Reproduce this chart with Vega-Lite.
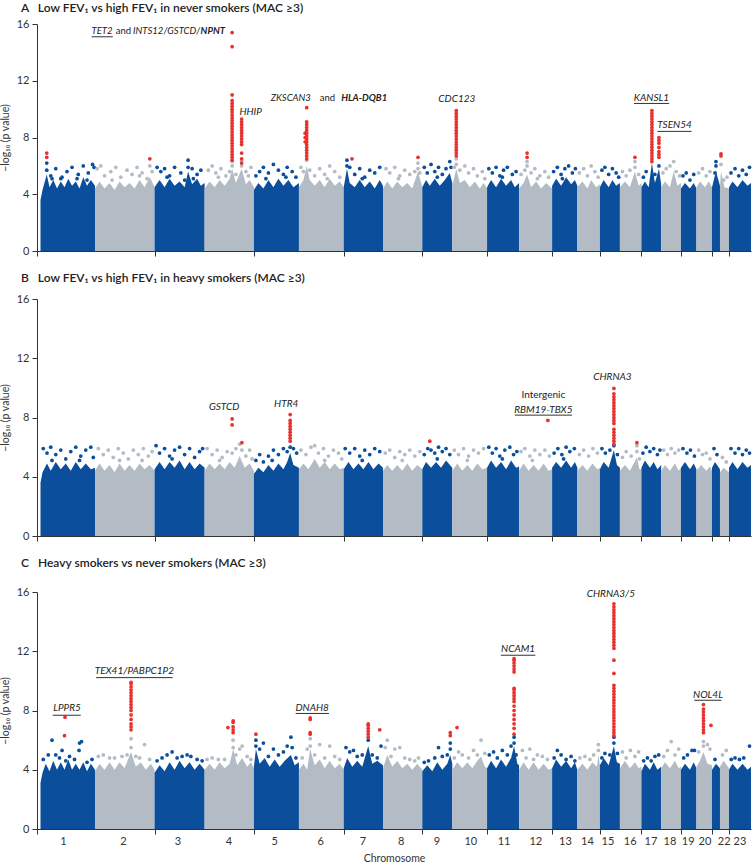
{
"$schema":"https://vega.github.io/schema/vega-lite/v6.json",
"padding":{"left":0,"top":2,"right":0,"bottom":0},
"spacing":15,
"config":{"view":{"stroke":null},"font":"Lato",
"axis":{"labelFont":"Lato","titleFont":"Lato","labelFontSize":11,"titleFontSize":10.5,"titleFontWeight":"normal","labelColor":"#333","titleColor":"#333","domainColor":"#333","tickColor":"#333","grid":false,"tickSize":5},
"title":{"font":"Lato","fontSize":12,"fontWeight":600,"anchor":"start","frame":"group","color":"#222","dx":-16}},
"datasets":{
"profA":[
{"chr":1,"pos":14,"p":3.6},{"chr":1,"pos":22,"p":4.3},{"chr":1,"pos":39,"p":5.4},{"chr":1,"pos":50,"p":4.5},{"chr":1,"pos":65,"p":5.0},{"chr":1,"pos":80,"p":4.4},{"chr":1,"pos":95,"p":4.9},{"chr":1,"pos":110,"p":4.5},{"chr":1,"pos":125,"p":5.1},{"chr":1,"pos":140,"p":4.6},{"chr":1,"pos":155,"p":4.9},{"chr":1,"pos":170,"p":4.4},{"chr":1,"pos":185,"p":5.2},{"chr":1,"pos":200,"p":4.6},{"chr":1,"pos":215,"p":5.0},{"chr":1,"pos":232,"p":4.6},
{"chr":2,"pos":232,"p":4.4},{"chr":2,"pos":250,"p":4.9},{"chr":2,"pos":270,"p":4.4},{"chr":2,"pos":290,"p":4.8},{"chr":2,"pos":310,"p":4.3},{"chr":2,"pos":330,"p":4.9},{"chr":2,"pos":350,"p":4.5},{"chr":2,"pos":370,"p":4.8},{"chr":2,"pos":390,"p":4.4},{"chr":2,"pos":410,"p":5.0},{"chr":2,"pos":430,"p":4.5},{"chr":2,"pos":451,"p":5.2},{"chr":2,"pos":470,"p":4.5},
{"chr":3,"pos":470,"p":4.5},{"chr":3,"pos":490,"p":5.0},{"chr":3,"pos":510,"p":4.5},{"chr":3,"pos":530,"p":5.1},{"chr":3,"pos":550,"p":4.6},{"chr":3,"pos":570,"p":4.9},{"chr":3,"pos":590,"p":4.5},{"chr":3,"pos":604,"p":5.6},{"chr":3,"pos":620,"p":4.7},{"chr":3,"pos":640,"p":5.1},{"chr":3,"pos":655,"p":4.6},{"chr":3,"pos":670,"p":4.8},
{"chr":4,"pos":670,"p":4.4},{"chr":4,"pos":690,"p":4.9},{"chr":4,"pos":710,"p":4.5},{"chr":4,"pos":730,"p":5.0},{"chr":4,"pos":750,"p":4.6},{"chr":4,"pos":770,"p":5.1},{"chr":4,"pos":780,"p":5.8},{"chr":4,"pos":795,"p":4.8},{"chr":4,"pos":818,"p":5.8},{"chr":4,"pos":835,"p":4.7},{"chr":4,"pos":850,"p":5.0},{"chr":4,"pos":867,"p":4.5},
{"chr":5,"pos":867,"p":4.3},{"chr":5,"pos":885,"p":4.8},{"chr":5,"pos":905,"p":4.4},{"chr":5,"pos":925,"p":5.0},{"chr":5,"pos":945,"p":4.5},{"chr":5,"pos":965,"p":5.1},{"chr":5,"pos":985,"p":4.6},{"chr":5,"pos":1005,"p":5.0},{"chr":5,"pos":1025,"p":4.5},{"chr":5,"pos":1047,"p":4.8},
{"chr":6,"pos":1047,"p":4.5},{"chr":6,"pos":1065,"p":5.0},{"chr":6,"pos":1078,"p":6.0},{"chr":6,"pos":1090,"p":5.0},{"chr":6,"pos":1110,"p":4.6},{"chr":6,"pos":1130,"p":5.0},{"chr":6,"pos":1150,"p":4.5},{"chr":6,"pos":1170,"p":5.1},{"chr":6,"pos":1190,"p":4.6},{"chr":6,"pos":1210,"p":4.9},{"chr":6,"pos":1226,"p":4.5},
{"chr":7,"pos":1226,"p":4.5},{"chr":7,"pos":1239,"p":5.8},{"chr":7,"pos":1250,"p":4.8},{"chr":7,"pos":1270,"p":4.5},{"chr":7,"pos":1290,"p":5.0},{"chr":7,"pos":1310,"p":4.5},{"chr":7,"pos":1330,"p":4.9},{"chr":7,"pos":1350,"p":4.4},{"chr":7,"pos":1370,"p":5.0},{"chr":7,"pos":1383,"p":4.6},
{"chr":8,"pos":1383,"p":4.4},{"chr":8,"pos":1400,"p":4.9},{"chr":8,"pos":1420,"p":4.4},{"chr":8,"pos":1440,"p":4.9},{"chr":8,"pos":1460,"p":4.5},{"chr":8,"pos":1480,"p":4.8},{"chr":8,"pos":1500,"p":4.4},{"chr":8,"pos":1523,"p":5.6},{"chr":8,"pos":1540,"p":4.5},
{"chr":9,"pos":1540,"p":4.5},{"chr":9,"pos":1555,"p":5.0},{"chr":9,"pos":1570,"p":4.6},{"chr":9,"pos":1590,"p":5.1},{"chr":9,"pos":1610,"p":4.6},{"chr":9,"pos":1630,"p":5.0},{"chr":9,"pos":1650,"p":5.5},{"chr":9,"pos":1660,"p":4.8},
{"chr":10,"pos":1660,"p":4.6},{"chr":10,"pos":1676,"p":5.8},{"chr":10,"pos":1690,"p":4.8},{"chr":10,"pos":1710,"p":5.0},{"chr":10,"pos":1730,"p":4.5},{"chr":10,"pos":1750,"p":4.9},{"chr":10,"pos":1770,"p":4.4},{"chr":10,"pos":1785,"p":4.8},{"chr":10,"pos":1799,"p":4.4},
{"chr":11,"pos":1799,"p":4.5},{"chr":11,"pos":1815,"p":5.0},{"chr":11,"pos":1835,"p":4.5},{"chr":11,"pos":1855,"p":5.1},{"chr":11,"pos":1875,"p":4.6},{"chr":11,"pos":1895,"p":5.0},{"chr":11,"pos":1910,"p":4.5},{"chr":11,"pos":1927,"p":4.8},
{"chr":12,"pos":1927,"p":4.4},{"chr":12,"pos":1945,"p":4.8},{"chr":12,"pos":1959,"p":5.4},{"chr":12,"pos":1975,"p":4.5},{"chr":12,"pos":1995,"p":4.9},{"chr":12,"pos":2015,"p":4.4},{"chr":12,"pos":2035,"p":4.8},{"chr":12,"pos":2059,"p":4.4},
{"chr":13,"pos":2059,"p":4.6},{"chr":13,"pos":2075,"p":5.1},{"chr":13,"pos":2095,"p":4.6},{"chr":13,"pos":2115,"p":5.2},{"chr":13,"pos":2135,"p":4.7},{"chr":13,"pos":2150,"p":5.0},{"chr":13,"pos":2160,"p":4.6},
{"chr":14,"pos":2160,"p":4.5},{"chr":14,"pos":2180,"p":4.9},{"chr":14,"pos":2200,"p":4.4},{"chr":14,"pos":2215,"p":5.0},{"chr":14,"pos":2235,"p":4.5},{"chr":14,"pos":2250,"p":4.7},
{"chr":15,"pos":2250,"p":4.5},{"chr":15,"pos":2265,"p":5.0},{"chr":15,"pos":2285,"p":4.5},{"chr":15,"pos":2300,"p":5.0},{"chr":15,"pos":2315,"p":4.6},{"chr":15,"pos":2330,"p":4.8},
{"chr":16,"pos":2330,"p":4.5},{"chr":16,"pos":2350,"p":4.9},{"chr":16,"pos":2370,"p":4.5},{"chr":16,"pos":2390,"p":5.6},{"chr":16,"pos":2405,"p":4.6},{"chr":16,"pos":2416,"p":4.8},
{"chr":17,"pos":2416,"p":4.5},{"chr":17,"pos":2430,"p":4.9},{"chr":17,"pos":2445,"p":4.5},{"chr":17,"pos":2458,"p":6.2},{"chr":17,"pos":2470,"p":4.8},{"chr":17,"pos":2486,"p":5.8},{"chr":17,"pos":2495,"p":4.7},
{"chr":18,"pos":2495,"p":4.5},{"chr":18,"pos":2510,"p":4.9},{"chr":18,"pos":2530,"p":4.5},{"chr":18,"pos":2545,"p":5.6},{"chr":18,"pos":2560,"p":4.6},{"chr":18,"pos":2574,"p":4.8},
{"chr":19,"pos":2574,"p":4.4},{"chr":19,"pos":2590,"p":4.8},{"chr":19,"pos":2610,"p":4.4},{"chr":19,"pos":2625,"p":4.8},{"chr":19,"pos":2636,"p":4.4},
{"chr":20,"pos":2636,"p":4.5},{"chr":20,"pos":2650,"p":4.9},{"chr":20,"pos":2670,"p":4.5},{"chr":20,"pos":2685,"p":4.9},{"chr":20,"pos":2698,"p":4.5},
{"chr":21,"pos":2698,"p":4.5},{"chr":21,"pos":2714,"p":5.6},{"chr":21,"pos":2730,"p":4.6},
{"chr":22,"pos":2730,"p":4.5},{"chr":22,"pos":2734,"p":5.6},{"chr":22,"pos":2748,"p":4.5},{"chr":22,"pos":2766,"p":4.4},
{"chr":23,"pos":2766,"p":4.5},{"chr":23,"pos":2780,"p":4.9},{"chr":23,"pos":2800,"p":4.5},{"chr":23,"pos":2820,"p":5.0},{"chr":23,"pos":2840,"p":4.6},{"chr":23,"pos":2854,"p":4.8}],
"dotsA":[
{"chr":1,"pos":39,"p":5.7},{"chr":1,"pos":39,"p":6.2},{"chr":1,"pos":55,"p":5.3},{"chr":1,"pos":75,"p":5.8},{"chr":1,"pos":95,"p":5.1},{"chr":1,"pos":120,"p":5.6},{"chr":1,"pos":140,"p":5.9},{"chr":1,"pos":165,"p":5.4},{"chr":1,"pos":185,"p":6.0},{"chr":1,"pos":205,"p":5.5},{"chr":1,"pos":222,"p":6.1},{"chr":1,"pos":228,"p":5.9},{"chr":1,"pos":60,"p":5.1},{"chr":1,"pos":100,"p":5.2},{"chr":1,"pos":160,"p":5.1},{"chr":1,"pos":200,"p":5.0},
{"chr":2,"pos":240,"p":5.8},{"chr":2,"pos":255,"p":6.0},{"chr":2,"pos":270,"p":5.3},{"chr":2,"pos":295,"p":5.6},{"chr":2,"pos":315,"p":5.9},{"chr":2,"pos":335,"p":5.2},{"chr":2,"pos":360,"p":5.7},{"chr":2,"pos":380,"p":5.4},{"chr":2,"pos":400,"p":5.9},{"chr":2,"pos":420,"p":5.5},{"chr":2,"pos":440,"p":5.1},{"chr":2,"pos":451,"p":6.0},{"chr":2,"pos":460,"p":5.6},{"chr":2,"pos":300,"p":5.0},{"chr":2,"pos":410,"p":5.3},
{"chr":3,"pos":480,"p":5.9},{"chr":3,"pos":495,"p":5.6},{"chr":3,"pos":510,"p":5.8},{"chr":3,"pos":530,"p":5.3},{"chr":3,"pos":550,"p":5.9},{"chr":3,"pos":575,"p":5.5},{"chr":3,"pos":590,"p":5.0},{"chr":3,"pos":604,"p":6.4},{"chr":3,"pos":604,"p":5.9},{"chr":3,"pos":620,"p":5.8},{"chr":3,"pos":640,"p":5.4},{"chr":3,"pos":655,"p":5.7},{"chr":3,"pos":520,"p":5.2},{"chr":3,"pos":625,"p":5.1},
{"chr":4,"pos":685,"p":5.7},{"chr":4,"pos":700,"p":6.0},{"chr":4,"pos":715,"p":5.5},{"chr":4,"pos":735,"p":5.8},{"chr":4,"pos":755,"p":5.3},{"chr":4,"pos":770,"p":5.6},{"chr":4,"pos":780,"p":6.0},{"chr":4,"pos":780,"p":6.3},{"chr":4,"pos":795,"p":5.4},{"chr":4,"pos":818,"p":6.0},{"chr":4,"pos":818,"p":6.4},{"chr":4,"pos":835,"p":5.6},{"chr":4,"pos":855,"p":5.9},{"chr":4,"pos":725,"p":5.2},{"chr":4,"pos":845,"p":5.3},
{"chr":5,"pos":875,"p":5.3},{"chr":5,"pos":890,"p":5.6},{"chr":5,"pos":905,"p":5.9},{"chr":5,"pos":925,"p":5.5},{"chr":5,"pos":945,"p":6.1},{"chr":5,"pos":965,"p":5.7},{"chr":5,"pos":985,"p":5.4},{"chr":5,"pos":1000,"p":5.9},{"chr":5,"pos":1020,"p":5.6},{"chr":5,"pos":1035,"p":5.2},{"chr":5,"pos":915,"p":5.1},{"chr":5,"pos":995,"p":5.2},
{"chr":6,"pos":1055,"p":5.9},{"chr":6,"pos":1065,"p":5.6},{"chr":6,"pos":1078,"p":6.4},{"chr":6,"pos":1090,"p":5.7},{"chr":6,"pos":1110,"p":5.3},{"chr":6,"pos":1130,"p":5.8},{"chr":6,"pos":1150,"p":5.4},{"chr":6,"pos":1170,"p":6.0},{"chr":6,"pos":1190,"p":5.6},{"chr":6,"pos":1210,"p":5.2},{"chr":6,"pos":1160,"p":5.1},
{"chr":7,"pos":1239,"p":6.0},{"chr":7,"pos":1239,"p":6.4},{"chr":7,"pos":1250,"p":5.9},{"chr":7,"pos":1270,"p":5.4},{"chr":7,"pos":1290,"p":5.8},{"chr":7,"pos":1310,"p":5.2},{"chr":7,"pos":1330,"p":5.7},{"chr":7,"pos":1350,"p":5.5},{"chr":7,"pos":1370,"p":5.9},{"chr":7,"pos":1300,"p":5.1},
{"chr":8,"pos":1395,"p":5.8},{"chr":8,"pos":1410,"p":5.5},{"chr":8,"pos":1430,"p":5.9},{"chr":8,"pos":1450,"p":5.3},{"chr":8,"pos":1470,"p":5.7},{"chr":8,"pos":1490,"p":5.4},{"chr":8,"pos":1510,"p":5.6},{"chr":8,"pos":1523,"p":5.8},{"chr":8,"pos":1523,"p":6.2},{"chr":8,"pos":1530,"p":5.5},{"chr":8,"pos":1445,"p":5.1},
{"chr":9,"pos":1548,"p":5.9},{"chr":9,"pos":1560,"p":5.5},{"chr":9,"pos":1575,"p":6.1},{"chr":9,"pos":1590,"p":5.6},{"chr":9,"pos":1605,"p":5.9},{"chr":9,"pos":1620,"p":5.4},{"chr":9,"pos":1635,"p":5.8},{"chr":9,"pos":1650,"p":6.3},{"chr":9,"pos":1655,"p":5.9},{"chr":9,"pos":1600,"p":5.2},
{"chr":10,"pos":1668,"p":5.9},{"chr":10,"pos":1676,"p":6.1},{"chr":10,"pos":1676,"p":6.5},{"chr":10,"pos":1690,"p":5.7},{"chr":10,"pos":1710,"p":6.0},{"chr":10,"pos":1725,"p":5.5},{"chr":10,"pos":1745,"p":5.8},{"chr":10,"pos":1760,"p":5.3},{"chr":10,"pos":1780,"p":5.6},{"chr":10,"pos":1790,"p":5.1},
{"chr":11,"pos":1806,"p":5.8},{"chr":11,"pos":1820,"p":5.5},{"chr":11,"pos":1835,"p":5.9},{"chr":11,"pos":1850,"p":5.3},{"chr":11,"pos":1865,"p":5.7},{"chr":11,"pos":1880,"p":5.9},{"chr":11,"pos":1900,"p":5.4},{"chr":11,"pos":1915,"p":5.6},{"chr":11,"pos":1860,"p":5.2},
{"chr":12,"pos":1935,"p":5.4},{"chr":12,"pos":1950,"p":5.7},{"chr":12,"pos":1959,"p":6.0},{"chr":12,"pos":1959,"p":6.3},{"chr":12,"pos":1975,"p":5.5},{"chr":12,"pos":1990,"p":5.8},{"chr":12,"pos":2010,"p":5.3},{"chr":12,"pos":2030,"p":5.6},{"chr":12,"pos":2045,"p":5.2},{"chr":12,"pos":2000,"p":5.1},
{"chr":13,"pos":2065,"p":5.6},{"chr":13,"pos":2080,"p":5.9},{"chr":13,"pos":2095,"p":5.4},{"chr":13,"pos":2110,"p":5.8},{"chr":13,"pos":2125,"p":6.0},{"chr":13,"pos":2140,"p":5.5},{"chr":13,"pos":2152,"p":5.8},{"chr":13,"pos":2100,"p":5.1},
{"chr":14,"pos":2168,"p":5.5},{"chr":14,"pos":2185,"p":5.8},{"chr":14,"pos":2200,"p":5.3},{"chr":14,"pos":2215,"p":6.0},{"chr":14,"pos":2230,"p":5.6},{"chr":14,"pos":2243,"p":5.2},
{"chr":15,"pos":2258,"p":5.7},{"chr":15,"pos":2270,"p":5.9},{"chr":15,"pos":2285,"p":5.4},{"chr":15,"pos":2300,"p":5.8},{"chr":15,"pos":2315,"p":5.5},{"chr":15,"pos":2325,"p":5.2},
{"chr":16,"pos":2340,"p":5.6},{"chr":16,"pos":2355,"p":5.3},{"chr":16,"pos":2370,"p":5.7},{"chr":16,"pos":2390,"p":5.9},{"chr":16,"pos":2390,"p":6.3},{"chr":16,"pos":2405,"p":5.4},
{"chr":17,"pos":2424,"p":5.2},{"chr":17,"pos":2435,"p":5.6},{"chr":17,"pos":2470,"p":5.4},{"chr":17,"pos":2486,"p":6.0},
{"chr":18,"pos":2502,"p":5.5},{"chr":18,"pos":2515,"p":5.8},{"chr":18,"pos":2530,"p":6.0},{"chr":18,"pos":2545,"p":6.3},{"chr":18,"pos":2555,"p":5.6},{"chr":18,"pos":2568,"p":5.3},
{"chr":19,"pos":2582,"p":5.3},{"chr":19,"pos":2595,"p":5.5},{"chr":19,"pos":2610,"p":5.0},{"chr":19,"pos":2625,"p":5.4},
{"chr":20,"pos":2645,"p":5.5},{"chr":20,"pos":2660,"p":5.8},{"chr":20,"pos":2675,"p":5.3},{"chr":20,"pos":2690,"p":5.6},
{"chr":21,"pos":2710,"p":5.5},{"chr":21,"pos":2714,"p":6.0},{"chr":21,"pos":2714,"p":6.3},
{"chr":22,"pos":2734,"p":6.1},{"chr":22,"pos":2745,"p":5.0},{"chr":22,"pos":2758,"p":5.2},
{"chr":23,"pos":2774,"p":5.5},{"chr":23,"pos":2790,"p":5.8},{"chr":23,"pos":2805,"p":5.3},{"chr":23,"pos":2820,"p":5.7},{"chr":23,"pos":2835,"p":5.4},{"chr":23,"pos":2848,"p":5.9}],
"hitsA":[
{"pos":39,"p":6.6},{"pos":39,"p":6.9},{"pos":451,"p":6.5},
{"pos":780,"p":6.4},{"pos":780,"p":6.6},{"pos":780,"p":6.8},{"pos":780,"p":7.0},{"pos":780,"p":7.2},{"pos":780,"p":7.4},{"pos":780,"p":7.6},{"pos":780,"p":7.8},{"pos":780,"p":8.0},{"pos":780,"p":8.2},{"pos":780,"p":8.4},{"pos":780,"p":8.6},{"pos":780,"p":8.8},{"pos":780,"p":9.0},{"pos":780,"p":9.2},{"pos":780,"p":9.4},{"pos":780,"p":9.6},{"pos":780,"p":9.8},{"pos":780,"p":10.0},{"pos":780,"p":10.2},{"pos":780,"p":10.4},{"pos":780,"p":10.6},{"pos":780,"p":11.0},{"pos":780,"p":14.4},{"pos":780,"p":15.4},
{"pos":818,"p":6.2},{"pos":818,"p":6.5},{"pos":818,"p":6.9},{"pos":818,"p":7.5},{"pos":818,"p":7.7},{"pos":818,"p":7.9},{"pos":818,"p":8.1},{"pos":818,"p":8.3},{"pos":818,"p":8.5},{"pos":818,"p":8.7},{"pos":818,"p":8.9},{"pos":818,"p":9.1},{"pos":818,"p":9.3},
{"pos":1078,"p":6.5},{"pos":1078,"p":6.7},{"pos":1078,"p":6.9},{"pos":1078,"p":7.1},{"pos":1078,"p":7.3},{"pos":1078,"p":7.5},{"pos":1078,"p":7.7},{"pos":1078,"p":7.9},{"pos":1078,"p":8.1},{"pos":1078,"p":8.3},{"pos":1078,"p":8.5},{"pos":1078,"p":8.7},{"pos":1078,"p":8.9},{"pos":1078,"p":9.1},{"pos":1078,"p":10.1},{"pos":1072,"p":7.7},{"pos":1072,"p":8.0},{"pos":1072,"p":8.3},
{"pos":1259,"p":6.5},{"pos":1523,"p":6.6},
{"pos":1676,"p":6.7},{"pos":1676,"p":6.9},{"pos":1676,"p":7.1},{"pos":1676,"p":7.3},{"pos":1676,"p":7.5},{"pos":1676,"p":7.7},{"pos":1676,"p":7.9},{"pos":1676,"p":8.1},{"pos":1676,"p":8.3},{"pos":1676,"p":8.5},{"pos":1676,"p":8.7},{"pos":1676,"p":8.9},{"pos":1676,"p":9.1},{"pos":1676,"p":9.3},{"pos":1676,"p":9.5},{"pos":1676,"p":9.7},{"pos":1676,"p":9.9},
{"pos":1959,"p":6.6},{"pos":1959,"p":6.9},{"pos":2390,"p":6.6},
{"pos":2458,"p":6.3},{"pos":2458,"p":6.5},{"pos":2458,"p":6.7},{"pos":2458,"p":6.9},{"pos":2458,"p":7.1},{"pos":2458,"p":7.3},{"pos":2458,"p":7.5},{"pos":2458,"p":7.7},{"pos":2458,"p":7.9},{"pos":2458,"p":8.1},{"pos":2458,"p":8.3},{"pos":2458,"p":8.5},{"pos":2458,"p":8.7},{"pos":2458,"p":8.9},{"pos":2458,"p":9.1},{"pos":2458,"p":9.3},{"pos":2458,"p":9.5},{"pos":2458,"p":9.7},{"pos":2458,"p":9.9},
{"pos":2486,"p":6.6},{"pos":2486,"p":6.8},{"pos":2486,"p":7.0},{"pos":2486,"p":7.3},{"pos":2486,"p":7.6},{"pos":2486,"p":7.8},{"pos":2486,"p":8.0},
{"pos":2734,"p":6.7},{"pos":2734,"p":6.85}],
"labA":[
{"text":"HHIP","pos":854,"p":9.8,"kind":"gene"},
{"text":"CDC123","pos":1678,"p":10.7,"kind":"gene"},{"text":"KANSL1","pos":2456,"p":10.8,"kind":"gene"},{"text":"TSEN54","pos":2548,"p":8.85,"kind":"gene"}],
"partsA":[
{"text":"TET2","pos":218,"p":15.5,"kind":"gene"},{"text":"and","pos":315,"p":15.5,"kind":"note"},{"text":"INTS12/GSTCD/","pos":384,"p":15.5,"kind":"gene"},{"text":"NPNT","pos":654,"p":15.5,"kind":"lead"},
{"text":"ZKSCAN3","pos":934,"p":10.75,"kind":"gene"},{"text":"and","pos":1130,"p":10.75,"kind":"note"},{"text":"HLA-DQB1","pos":1216,"p":10.75,"kind":"lead"}],
"ulA":[{"pos":218,"pos2":303,"p":15.1},{"pos":2386,"pos2":2527,"p":10.4},{"pos":2480,"pos2":2616,"p":8.43}],
"profB":[
{"chr":1,"pos":14,"p":3.6},{"chr":1,"pos":22,"p":4.3},{"chr":1,"pos":40,"p":4.9},{"chr":1,"pos":55,"p":4.4},{"chr":1,"pos":75,"p":5.0},{"chr":1,"pos":95,"p":4.5},{"chr":1,"pos":115,"p":4.9},{"chr":1,"pos":135,"p":4.4},{"chr":1,"pos":155,"p":5.0},{"chr":1,"pos":175,"p":4.5},{"chr":1,"pos":195,"p":4.9},{"chr":1,"pos":215,"p":4.5},{"chr":1,"pos":232,"p":4.6},
{"chr":2,"pos":232,"p":4.4},{"chr":2,"pos":250,"p":4.9},{"chr":2,"pos":270,"p":4.4},{"chr":2,"pos":290,"p":4.8},{"chr":2,"pos":310,"p":4.3},{"chr":2,"pos":330,"p":4.9},{"chr":2,"pos":350,"p":4.4},{"chr":2,"pos":370,"p":4.8},{"chr":2,"pos":390,"p":4.4},{"chr":2,"pos":410,"p":4.9},{"chr":2,"pos":430,"p":4.5},{"chr":2,"pos":450,"p":4.8},{"chr":2,"pos":470,"p":4.4},
{"chr":3,"pos":470,"p":4.5},{"chr":3,"pos":490,"p":5.0},{"chr":3,"pos":510,"p":4.5},{"chr":3,"pos":530,"p":5.0},{"chr":3,"pos":550,"p":4.6},{"chr":3,"pos":570,"p":5.1},{"chr":3,"pos":590,"p":4.5},{"chr":3,"pos":610,"p":5.0},{"chr":3,"pos":630,"p":4.5},{"chr":3,"pos":650,"p":4.9},{"chr":3,"pos":670,"p":4.6},
{"chr":4,"pos":670,"p":4.4},{"chr":4,"pos":690,"p":4.9},{"chr":4,"pos":710,"p":4.5},{"chr":4,"pos":730,"p":4.9},{"chr":4,"pos":750,"p":4.5},{"chr":4,"pos":770,"p":5.0},{"chr":4,"pos":790,"p":4.6},{"chr":4,"pos":810,"p":5.4},{"chr":4,"pos":830,"p":4.6},{"chr":4,"pos":850,"p":4.9},{"chr":4,"pos":867,"p":4.4},
{"chr":5,"pos":867,"p":4.2},{"chr":5,"pos":885,"p":4.6},{"chr":5,"pos":905,"p":4.3},{"chr":5,"pos":925,"p":4.8},{"chr":5,"pos":945,"p":4.4},{"chr":5,"pos":965,"p":4.9},{"chr":5,"pos":985,"p":4.5},{"chr":5,"pos":1000,"p":5.0},{"chr":5,"pos":1012,"p":5.6},{"chr":5,"pos":1025,"p":4.8},{"chr":5,"pos":1047,"p":4.6},
{"chr":6,"pos":1047,"p":4.5},{"chr":6,"pos":1065,"p":4.9},{"chr":6,"pos":1085,"p":4.5},{"chr":6,"pos":1110,"p":5.2},{"chr":6,"pos":1130,"p":4.6},{"chr":6,"pos":1150,"p":5.0},{"chr":6,"pos":1170,"p":4.5},{"chr":6,"pos":1190,"p":4.9},{"chr":6,"pos":1210,"p":4.5},{"chr":6,"pos":1226,"p":4.6},
{"chr":7,"pos":1226,"p":4.5},{"chr":7,"pos":1245,"p":5.0},{"chr":7,"pos":1265,"p":4.5},{"chr":7,"pos":1285,"p":4.9},{"chr":7,"pos":1305,"p":4.5},{"chr":7,"pos":1325,"p":5.0},{"chr":7,"pos":1345,"p":4.5},{"chr":7,"pos":1365,"p":4.9},{"chr":7,"pos":1383,"p":4.6},
{"chr":8,"pos":1383,"p":4.4},{"chr":8,"pos":1400,"p":4.8},{"chr":8,"pos":1420,"p":4.4},{"chr":8,"pos":1440,"p":4.8},{"chr":8,"pos":1460,"p":4.4},{"chr":8,"pos":1480,"p":4.9},{"chr":8,"pos":1500,"p":4.4},{"chr":8,"pos":1520,"p":4.8},{"chr":8,"pos":1540,"p":4.5},
{"chr":9,"pos":1540,"p":4.5},{"chr":9,"pos":1555,"p":5.0},{"chr":9,"pos":1575,"p":4.6},{"chr":9,"pos":1595,"p":5.0},{"chr":9,"pos":1615,"p":4.6},{"chr":9,"pos":1635,"p":5.1},{"chr":9,"pos":1660,"p":4.6},
{"chr":10,"pos":1660,"p":4.4},{"chr":10,"pos":1680,"p":4.9},{"chr":10,"pos":1700,"p":4.4},{"chr":10,"pos":1720,"p":4.8},{"chr":10,"pos":1740,"p":4.4},{"chr":10,"pos":1760,"p":4.9},{"chr":10,"pos":1780,"p":4.5},{"chr":10,"pos":1799,"p":4.6},
{"chr":11,"pos":1799,"p":4.6},{"chr":11,"pos":1815,"p":5.1},{"chr":11,"pos":1835,"p":4.6},{"chr":11,"pos":1855,"p":5.0},{"chr":11,"pos":1875,"p":4.5},{"chr":11,"pos":1895,"p":5.1},{"chr":11,"pos":1915,"p":4.6},{"chr":11,"pos":1927,"p":4.7},
{"chr":12,"pos":1927,"p":4.4},{"chr":12,"pos":1945,"p":4.9},{"chr":12,"pos":1965,"p":4.4},{"chr":12,"pos":1985,"p":4.8},{"chr":12,"pos":2005,"p":4.4},{"chr":12,"pos":2025,"p":4.9},{"chr":12,"pos":2045,"p":4.4},{"chr":12,"pos":2059,"p":4.5},
{"chr":13,"pos":2059,"p":4.6},{"chr":13,"pos":2075,"p":5.0},{"chr":13,"pos":2095,"p":4.6},{"chr":13,"pos":2115,"p":5.1},{"chr":13,"pos":2135,"p":4.6},{"chr":13,"pos":2150,"p":5.0},{"chr":13,"pos":2160,"p":4.6},
{"chr":14,"pos":2160,"p":4.4},{"chr":14,"pos":2180,"p":4.8},{"chr":14,"pos":2200,"p":4.4},{"chr":14,"pos":2220,"p":4.9},{"chr":14,"pos":2240,"p":4.5},{"chr":14,"pos":2250,"p":4.6},
{"chr":15,"pos":2250,"p":4.5},{"chr":15,"pos":2265,"p":5.0},{"chr":15,"pos":2285,"p":4.6},{"chr":15,"pos":2306,"p":5.8},{"chr":15,"pos":2318,"p":4.8},{"chr":15,"pos":2330,"p":4.6},
{"chr":16,"pos":2330,"p":4.4},{"chr":16,"pos":2350,"p":4.8},{"chr":16,"pos":2370,"p":4.4},{"chr":16,"pos":2398,"p":5.3},{"chr":16,"pos":2408,"p":4.5},{"chr":16,"pos":2416,"p":4.5},
{"chr":17,"pos":2416,"p":4.6},{"chr":17,"pos":2430,"p":5.1},{"chr":17,"pos":2450,"p":4.6},{"chr":17,"pos":2465,"p":5.0},{"chr":17,"pos":2480,"p":4.5},{"chr":17,"pos":2495,"p":4.8},
{"chr":18,"pos":2495,"p":4.4},{"chr":18,"pos":2510,"p":4.8},{"chr":18,"pos":2530,"p":4.4},{"chr":18,"pos":2550,"p":4.9},{"chr":18,"pos":2565,"p":4.4},{"chr":18,"pos":2574,"p":4.6},
{"chr":19,"pos":2574,"p":4.6},{"chr":19,"pos":2590,"p":5.0},{"chr":19,"pos":2610,"p":4.5},{"chr":19,"pos":2625,"p":4.9},{"chr":19,"pos":2636,"p":4.5},
{"chr":20,"pos":2636,"p":4.4},{"chr":20,"pos":2655,"p":4.8},{"chr":20,"pos":2675,"p":4.4},{"chr":20,"pos":2690,"p":4.7},{"chr":20,"pos":2698,"p":4.4},
{"chr":21,"pos":2698,"p":4.6},{"chr":21,"pos":2710,"p":5.0},{"chr":21,"pos":2730,"p":4.5},
{"chr":22,"pos":2730,"p":4.3},{"chr":22,"pos":2745,"p":4.6},{"chr":22,"pos":2766,"p":4.3},
{"chr":23,"pos":2766,"p":4.6},{"chr":23,"pos":2780,"p":5.0},{"chr":23,"pos":2800,"p":4.5},{"chr":23,"pos":2820,"p":5.0},{"chr":23,"pos":2840,"p":4.6},{"chr":23,"pos":2854,"p":4.8}],
"dotsB":[
{"chr":1,"pos":25,"p":5.9},{"chr":1,"pos":40,"p":5.6},{"chr":1,"pos":55,"p":6.0},{"chr":1,"pos":75,"p":5.5},{"chr":1,"pos":95,"p":5.8},{"chr":1,"pos":115,"p":5.2},{"chr":1,"pos":135,"p":5.7},{"chr":1,"pos":155,"p":6.0},{"chr":1,"pos":175,"p":5.4},{"chr":1,"pos":195,"p":5.8},{"chr":1,"pos":215,"p":6.0},{"chr":1,"pos":225,"p":5.3},{"chr":1,"pos":60,"p":5.1},{"chr":1,"pos":170,"p":5.1},
{"chr":2,"pos":245,"p":5.9},{"chr":2,"pos":265,"p":5.5},{"chr":2,"pos":285,"p":5.8},{"chr":2,"pos":305,"p":5.3},{"chr":2,"pos":325,"p":5.9},{"chr":2,"pos":345,"p":5.6},{"chr":2,"pos":365,"p":5.2},{"chr":2,"pos":385,"p":5.8},{"chr":2,"pos":405,"p":5.5},{"chr":2,"pos":425,"p":5.9},{"chr":2,"pos":445,"p":5.4},{"chr":2,"pos":460,"p":5.7},{"chr":2,"pos":330,"p":5.1},{"chr":2,"pos":420,"p":5.1},
{"chr":3,"pos":476,"p":6.1},{"chr":3,"pos":490,"p":5.6},{"chr":3,"pos":510,"p":5.9},{"chr":3,"pos":530,"p":5.4},{"chr":3,"pos":550,"p":5.8},{"chr":3,"pos":570,"p":6.0},{"chr":3,"pos":590,"p":5.5},{"chr":3,"pos":610,"p":5.9},{"chr":3,"pos":630,"p":5.3},{"chr":3,"pos":650,"p":5.7},{"chr":3,"pos":662,"p":5.9},{"chr":3,"pos":540,"p":5.2},
{"chr":4,"pos":680,"p":5.9},{"chr":4,"pos":700,"p":5.5},{"chr":4,"pos":720,"p":5.8},{"chr":4,"pos":740,"p":5.3},{"chr":4,"pos":760,"p":5.7},{"chr":4,"pos":780,"p":5.6},{"chr":4,"pos":795,"p":5.9},{"chr":4,"pos":810,"p":6.2},{"chr":4,"pos":819,"p":5.8},{"chr":4,"pos":835,"p":5.4},{"chr":4,"pos":850,"p":5.8},{"chr":4,"pos":860,"p":5.2},{"chr":4,"pos":730,"p":5.1},
{"chr":5,"pos":875,"p":5.1},{"chr":5,"pos":890,"p":5.5},{"chr":5,"pos":905,"p":5.0},{"chr":5,"pos":925,"p":5.4},{"chr":5,"pos":945,"p":5.8},{"chr":5,"pos":965,"p":5.5},{"chr":5,"pos":985,"p":5.9},{"chr":5,"pos":1000,"p":5.7},{"chr":5,"pos":1012,"p":6.0},{"chr":5,"pos":1025,"p":5.9},{"chr":5,"pos":1038,"p":5.6},{"chr":5,"pos":940,"p":5.1},
{"chr":6,"pos":1055,"p":5.8},{"chr":6,"pos":1075,"p":5.5},{"chr":6,"pos":1095,"p":6.0},{"chr":6,"pos":1110,"p":6.1},{"chr":6,"pos":1125,"p":5.6},{"chr":6,"pos":1145,"p":5.9},{"chr":6,"pos":1165,"p":5.4},{"chr":6,"pos":1185,"p":5.8},{"chr":6,"pos":1205,"p":5.6},{"chr":6,"pos":1218,"p":5.2},{"chr":6,"pos":1150,"p":5.1},
{"chr":7,"pos":1232,"p":5.9},{"chr":7,"pos":1250,"p":5.6},{"chr":7,"pos":1270,"p":5.9},{"chr":7,"pos":1290,"p":5.4},{"chr":7,"pos":1310,"p":5.8},{"chr":7,"pos":1330,"p":5.5},{"chr":7,"pos":1350,"p":5.9},{"chr":7,"pos":1370,"p":5.7},{"chr":7,"pos":1300,"p":5.1},
{"chr":8,"pos":1392,"p":5.6},{"chr":8,"pos":1410,"p":5.8},{"chr":8,"pos":1430,"p":5.3},{"chr":8,"pos":1450,"p":5.7},{"chr":8,"pos":1470,"p":5.5},{"chr":8,"pos":1490,"p":5.8},{"chr":8,"pos":1510,"p":5.4},{"chr":8,"pos":1530,"p":5.7},{"chr":8,"pos":1460,"p":5.1},
{"chr":9,"pos":1548,"p":5.5},{"chr":9,"pos":1562,"p":5.9},{"chr":9,"pos":1575,"p":5.8},{"chr":9,"pos":1590,"p":5.6},{"chr":9,"pos":1605,"p":6.0},{"chr":9,"pos":1620,"p":5.7},{"chr":9,"pos":1635,"p":5.9},{"chr":9,"pos":1650,"p":5.5},{"chr":9,"pos":1600,"p":5.2},
{"chr":10,"pos":1668,"p":5.8},{"chr":10,"pos":1685,"p":5.5},{"chr":10,"pos":1705,"p":5.9},{"chr":10,"pos":1725,"p":5.4},{"chr":10,"pos":1745,"p":5.8},{"chr":10,"pos":1765,"p":5.6},{"chr":10,"pos":1785,"p":5.9},{"chr":10,"pos":1720,"p":5.1},
{"chr":11,"pos":1806,"p":6.0},{"chr":11,"pos":1820,"p":5.6},{"chr":11,"pos":1835,"p":5.9},{"chr":11,"pos":1850,"p":5.4},{"chr":11,"pos":1870,"p":5.8},{"chr":11,"pos":1890,"p":6.0},{"chr":11,"pos":1905,"p":5.5},{"chr":11,"pos":1918,"p":5.7},{"chr":11,"pos":1860,"p":5.2},
{"chr":12,"pos":1935,"p":5.7},{"chr":12,"pos":1950,"p":5.9},{"chr":12,"pos":1970,"p":5.4},{"chr":12,"pos":1990,"p":5.8},{"chr":12,"pos":2010,"p":5.5},{"chr":12,"pos":2030,"p":5.8},{"chr":12,"pos":2048,"p":5.4},{"chr":12,"pos":1980,"p":5.1},
{"chr":13,"pos":2067,"p":5.6},{"chr":13,"pos":2082,"p":5.9},{"chr":13,"pos":2098,"p":5.5},{"chr":13,"pos":2115,"p":6.0},{"chr":13,"pos":2130,"p":5.7},{"chr":13,"pos":2148,"p":5.9},{"chr":13,"pos":2105,"p":5.2},
{"chr":14,"pos":2168,"p":5.5},{"chr":14,"pos":2185,"p":5.8},{"chr":14,"pos":2205,"p":5.4},{"chr":14,"pos":2222,"p":5.9},{"chr":14,"pos":2240,"p":5.6},
{"chr":15,"pos":2258,"p":5.9},{"chr":15,"pos":2272,"p":5.6},{"chr":15,"pos":2290,"p":5.8},{"chr":15,"pos":2306,"p":6.1},{"chr":15,"pos":2320,"p":5.5},
{"chr":16,"pos":2340,"p":5.3},{"chr":16,"pos":2355,"p":5.7},{"chr":16,"pos":2375,"p":5.4},{"chr":16,"pos":2398,"p":5.7},{"chr":16,"pos":2398,"p":6.1},{"chr":16,"pos":2408,"p":5.2},
{"chr":17,"pos":2422,"p":5.6},{"chr":17,"pos":2435,"p":6.0},{"chr":17,"pos":2450,"p":5.7},{"chr":17,"pos":2465,"p":5.9},{"chr":17,"pos":2480,"p":5.5},{"chr":17,"pos":2490,"p":5.8},
{"chr":18,"pos":2505,"p":5.8},{"chr":18,"pos":2520,"p":5.5},{"chr":18,"pos":2535,"p":5.9},{"chr":18,"pos":2550,"p":5.6},{"chr":18,"pos":2565,"p":5.8},
{"chr":19,"pos":2582,"p":5.9},{"chr":19,"pos":2598,"p":5.6},{"chr":19,"pos":2612,"p":5.8},{"chr":19,"pos":2628,"p":5.4},
{"chr":20,"pos":2645,"p":5.8},{"chr":20,"pos":2660,"p":5.5},{"chr":20,"pos":2675,"p":5.6},{"chr":20,"pos":2690,"p":5.2},
{"chr":21,"pos":2706,"p":5.9},{"chr":21,"pos":2718,"p":5.5},
{"chr":22,"pos":2740,"p":5.3},{"chr":22,"pos":2755,"p":5.0},
{"chr":23,"pos":2774,"p":5.9},{"chr":23,"pos":2790,"p":5.6},{"chr":23,"pos":2805,"p":5.9},{"chr":23,"pos":2820,"p":5.5},{"chr":23,"pos":2835,"p":5.8},{"chr":23,"pos":2848,"p":5.6}],
"hitsB":[
{"pos":780,"p":7.5},{"pos":780,"p":7.9},{"pos":819,"p":6.3},
{"pos":1012,"p":6.4},{"pos":1012,"p":6.6},{"pos":1012,"p":6.8},{"pos":1012,"p":7.0},{"pos":1012,"p":7.2},{"pos":1012,"p":7.4},{"pos":1012,"p":7.6},{"pos":1012,"p":7.8},{"pos":1012,"p":8.2},
{"pos":1570,"p":6.4},{"pos":2042,"p":7.8},
{"pos":2306,"p":6.2},{"pos":2306,"p":6.4},{"pos":2306,"p":6.6},{"pos":2306,"p":6.8},{"pos":2306,"p":7.0},{"pos":2306,"p":7.2},{"pos":2306,"p":7.6},{"pos":2306,"p":7.8},{"pos":2306,"p":8.0},{"pos":2306,"p":8.2},{"pos":2306,"p":8.4},{"pos":2306,"p":8.6},{"pos":2306,"p":8.8},{"pos":2306,"p":9.0},{"pos":2306,"p":9.2},{"pos":2306,"p":9.4},{"pos":2306,"p":9.6},{"pos":2306,"p":9.96},
{"pos":2398,"p":6.3}],
"labB":[
{"text":"GSTCD","pos":748,"p":8.72,"kind":"gene"},{"text":"HTR4","pos":996,"p":8.92,"kind":"gene"},{"text":"Intergenic","pos":2024,"p":9.5,"kind":"note"},{"text":"RBM19-TBX5","pos":2024,"p":8.54,"kind":"gene"},{"text":"CHRNA3","pos":2300,"p":10.76,"kind":"gene"}],
"ulB":[{"pos":1910,"pos2":2139,"p":8.16}],
"profC":[
{"chr":1,"pos":14,"p":3.1},{"chr":1,"pos":22,"p":3.8},{"chr":1,"pos":35,"p":4.4},{"chr":1,"pos":50,"p":3.9},{"chr":1,"pos":65,"p":4.6},{"chr":1,"pos":80,"p":4.0},{"chr":1,"pos":95,"p":4.5},{"chr":1,"pos":110,"p":4.0},{"chr":1,"pos":125,"p":4.7},{"chr":1,"pos":140,"p":4.0},{"chr":1,"pos":155,"p":4.4},{"chr":1,"pos":170,"p":4.0},{"chr":1,"pos":185,"p":4.5},{"chr":1,"pos":200,"p":3.9},{"chr":1,"pos":215,"p":4.4},{"chr":1,"pos":232,"p":4.0},
{"chr":2,"pos":232,"p":3.9},{"chr":2,"pos":250,"p":4.4},{"chr":2,"pos":270,"p":4.0},{"chr":2,"pos":290,"p":4.5},{"chr":2,"pos":310,"p":4.0},{"chr":2,"pos":330,"p":4.5},{"chr":2,"pos":350,"p":4.1},{"chr":2,"pos":376,"p":5.2},{"chr":2,"pos":395,"p":4.2},{"chr":2,"pos":415,"p":4.5},{"chr":2,"pos":435,"p":4.0},{"chr":2,"pos":455,"p":4.4},{"chr":2,"pos":470,"p":4.0},
{"chr":3,"pos":470,"p":3.8},{"chr":3,"pos":490,"p":4.3},{"chr":3,"pos":510,"p":3.9},{"chr":3,"pos":530,"p":4.5},{"chr":3,"pos":550,"p":4.0},{"chr":3,"pos":570,"p":4.6},{"chr":3,"pos":590,"p":4.1},{"chr":3,"pos":610,"p":4.5},{"chr":3,"pos":630,"p":4.0},{"chr":3,"pos":650,"p":4.4},{"chr":3,"pos":670,"p":4.0},
{"chr":4,"pos":670,"p":4.0},{"chr":4,"pos":690,"p":4.4},{"chr":4,"pos":710,"p":4.0},{"chr":4,"pos":730,"p":4.5},{"chr":4,"pos":750,"p":4.1},{"chr":4,"pos":770,"p":4.4},{"chr":4,"pos":784,"p":5.4},{"chr":4,"pos":800,"p":4.3},{"chr":4,"pos":820,"p":4.8},{"chr":4,"pos":840,"p":4.2},{"chr":4,"pos":855,"p":4.5},{"chr":4,"pos":867,"p":4.1},
{"chr":5,"pos":867,"p":4.2},{"chr":5,"pos":875,"p":5.4},{"chr":5,"pos":890,"p":4.4},{"chr":5,"pos":910,"p":4.8},{"chr":5,"pos":930,"p":4.2},{"chr":5,"pos":950,"p":4.7},{"chr":5,"pos":970,"p":4.2},{"chr":5,"pos":990,"p":4.6},{"chr":5,"pos":1015,"p":5.0},{"chr":5,"pos":1030,"p":4.3},{"chr":5,"pos":1047,"p":4.5},
{"chr":6,"pos":1047,"p":4.0},{"chr":6,"pos":1065,"p":4.4},{"chr":6,"pos":1080,"p":4.0},{"chr":6,"pos":1092,"p":5.4},{"chr":6,"pos":1110,"p":4.3},{"chr":6,"pos":1130,"p":4.7},{"chr":6,"pos":1150,"p":4.1},{"chr":6,"pos":1170,"p":4.6},{"chr":6,"pos":1190,"p":4.1},{"chr":6,"pos":1210,"p":4.4},{"chr":6,"pos":1226,"p":4.0},
{"chr":7,"pos":1226,"p":4.1},{"chr":7,"pos":1240,"p":4.8},{"chr":7,"pos":1260,"p":4.2},{"chr":7,"pos":1280,"p":4.6},{"chr":7,"pos":1300,"p":4.2},{"chr":7,"pos":1324,"p":5.6},{"chr":7,"pos":1340,"p":4.4},{"chr":7,"pos":1360,"p":4.6},{"chr":7,"pos":1383,"p":4.3},
{"chr":8,"pos":1383,"p":4.1},{"chr":8,"pos":1400,"p":5.0},{"chr":8,"pos":1420,"p":4.2},{"chr":8,"pos":1440,"p":4.6},{"chr":8,"pos":1460,"p":4.1},{"chr":8,"pos":1480,"p":4.4},{"chr":8,"pos":1500,"p":4.0},{"chr":8,"pos":1520,"p":4.4},{"chr":8,"pos":1540,"p":4.0},
{"chr":9,"pos":1540,"p":3.9},{"chr":9,"pos":1560,"p":4.3},{"chr":9,"pos":1580,"p":3.9},{"chr":9,"pos":1600,"p":4.5},{"chr":9,"pos":1620,"p":4.0},{"chr":9,"pos":1640,"p":4.4},{"chr":9,"pos":1652,"p":5.0},{"chr":9,"pos":1660,"p":4.4},
{"chr":10,"pos":1660,"p":4.0},{"chr":10,"pos":1680,"p":4.5},{"chr":10,"pos":1700,"p":4.1},{"chr":10,"pos":1720,"p":4.5},{"chr":10,"pos":1740,"p":4.1},{"chr":10,"pos":1760,"p":4.6},{"chr":10,"pos":1775,"p":4.9},{"chr":10,"pos":1790,"p":4.2},{"chr":10,"pos":1799,"p":4.1},
{"chr":11,"pos":1799,"p":4.1},{"chr":11,"pos":1815,"p":4.6},{"chr":11,"pos":1835,"p":4.1},{"chr":11,"pos":1855,"p":4.7},{"chr":11,"pos":1875,"p":4.2},{"chr":11,"pos":1895,"p":4.8},{"chr":11,"pos":1907,"p":5.6},{"chr":11,"pos":1920,"p":4.4},{"chr":11,"pos":1927,"p":4.3},
{"chr":12,"pos":1927,"p":4.0},{"chr":12,"pos":1945,"p":4.5},{"chr":12,"pos":1965,"p":4.0},{"chr":12,"pos":1985,"p":4.5},{"chr":12,"pos":2005,"p":4.0},{"chr":12,"pos":2025,"p":4.4},{"chr":12,"pos":2045,"p":4.0},{"chr":12,"pos":2059,"p":4.1},
{"chr":13,"pos":2059,"p":4.1},{"chr":13,"pos":2075,"p":4.7},{"chr":13,"pos":2095,"p":4.2},{"chr":13,"pos":2115,"p":4.6},{"chr":13,"pos":2135,"p":4.1},{"chr":13,"pos":2150,"p":4.5},{"chr":13,"pos":2160,"p":4.0},
{"chr":14,"pos":2160,"p":4.0},{"chr":14,"pos":2180,"p":4.4},{"chr":14,"pos":2200,"p":4.0},{"chr":14,"pos":2220,"p":4.5},{"chr":14,"pos":2238,"p":4.2},{"chr":14,"pos":2244,"p":5.0},{"chr":14,"pos":2250,"p":4.3},
{"chr":15,"pos":2250,"p":4.3},{"chr":15,"pos":2265,"p":4.8},{"chr":15,"pos":2285,"p":4.3},{"chr":15,"pos":2306,"p":5.6},{"chr":15,"pos":2318,"p":4.5},{"chr":15,"pos":2330,"p":4.4},
{"chr":16,"pos":2330,"p":4.1},{"chr":16,"pos":2350,"p":4.6},{"chr":16,"pos":2370,"p":4.1},{"chr":16,"pos":2390,"p":4.5},{"chr":16,"pos":2405,"p":4.1},{"chr":16,"pos":2416,"p":4.2},
{"chr":17,"pos":2416,"p":3.9},{"chr":17,"pos":2430,"p":4.4},{"chr":17,"pos":2450,"p":4.0},{"chr":17,"pos":2465,"p":4.5},{"chr":17,"pos":2480,"p":4.0},{"chr":17,"pos":2495,"p":4.2},
{"chr":18,"pos":2495,"p":4.1},{"chr":18,"pos":2510,"p":4.5},{"chr":18,"pos":2530,"p":4.1},{"chr":18,"pos":2550,"p":4.6},{"chr":18,"pos":2565,"p":4.1},{"chr":18,"pos":2574,"p":4.2},
{"chr":19,"pos":2574,"p":4.0},{"chr":19,"pos":2590,"p":4.4},{"chr":19,"pos":2610,"p":4.0},{"chr":19,"pos":2625,"p":4.5},{"chr":19,"pos":2636,"p":4.1},
{"chr":20,"pos":2636,"p":4.2},{"chr":20,"pos":2650,"p":4.6},{"chr":20,"pos":2664,"p":5.2},{"chr":20,"pos":2680,"p":4.4},{"chr":20,"pos":2698,"p":4.3},
{"chr":21,"pos":2698,"p":4.0},{"chr":21,"pos":2714,"p":4.4},{"chr":21,"pos":2730,"p":4.1},
{"chr":22,"pos":2730,"p":4.2},{"chr":22,"pos":2745,"p":4.6},{"chr":22,"pos":2766,"p":4.1},
{"chr":23,"pos":2766,"p":4.0},{"chr":23,"pos":2780,"p":4.4},{"chr":23,"pos":2800,"p":4.0},{"chr":23,"pos":2820,"p":4.4},{"chr":23,"pos":2840,"p":4.0},{"chr":23,"pos":2854,"p":4.2}],
"dotsC":[
{"chr":1,"pos":25,"p":4.7},{"chr":1,"pos":45,"p":5.0},{"chr":1,"pos":60,"p":6.0},{"chr":1,"pos":75,"p":5.0},{"chr":1,"pos":90,"p":4.8},{"chr":1,"pos":100,"p":5.3},{"chr":1,"pos":115,"p":4.6},{"chr":1,"pos":130,"p":4.9},{"chr":1,"pos":150,"p":4.7},{"chr":1,"pos":170,"p":5.8},{"chr":1,"pos":178,"p":5.9},{"chr":1,"pos":168,"p":5.3},{"chr":1,"pos":200,"p":4.5},{"chr":1,"pos":220,"p":4.7},
{"chr":2,"pos":245,"p":4.9},{"chr":2,"pos":265,"p":5.0},{"chr":2,"pos":290,"p":4.8},{"chr":2,"pos":310,"p":4.8},{"chr":2,"pos":340,"p":4.9},{"chr":2,"pos":360,"p":5.0},{"chr":2,"pos":376,"p":5.5},{"chr":2,"pos":376,"p":6.1},{"chr":2,"pos":395,"p":4.9},{"chr":2,"pos":410,"p":4.8},{"chr":2,"pos":430,"p":5.7},{"chr":2,"pos":450,"p":4.7},
{"chr":3,"pos":480,"p":4.6},{"chr":3,"pos":500,"p":4.8},{"chr":3,"pos":520,"p":5.0},{"chr":3,"pos":540,"p":5.2},{"chr":3,"pos":560,"p":4.8},{"chr":3,"pos":580,"p":4.9},{"chr":3,"pos":600,"p":5.0},{"chr":3,"pos":615,"p":4.9},{"chr":3,"pos":640,"p":4.7},{"chr":3,"pos":660,"p":4.6},
{"chr":4,"pos":680,"p":4.7},{"chr":4,"pos":700,"p":4.8},{"chr":4,"pos":725,"p":4.7},{"chr":4,"pos":750,"p":4.7},{"chr":4,"pos":784,"p":5.5},{"chr":4,"pos":784,"p":6.0},{"chr":4,"pos":795,"p":5.0},{"chr":4,"pos":810,"p":5.4},{"chr":4,"pos":820,"p":5.6},{"chr":4,"pos":840,"p":4.9},{"chr":4,"pos":855,"p":4.7},
{"chr":5,"pos":875,"p":5.6},{"chr":5,"pos":875,"p":6.0},{"chr":5,"pos":890,"p":5.4},{"chr":5,"pos":905,"p":5.8},{"chr":5,"pos":925,"p":4.9},{"chr":5,"pos":945,"p":5.4},{"chr":5,"pos":965,"p":5.0},{"chr":5,"pos":985,"p":5.2},{"chr":5,"pos":1000,"p":5.6},{"chr":5,"pos":1015,"p":6.2},{"chr":5,"pos":1020,"p":5.5},{"chr":5,"pos":1035,"p":4.8},
{"chr":6,"pos":1060,"p":4.8},{"chr":6,"pos":1080,"p":5.4},{"chr":6,"pos":1092,"p":5.6},{"chr":6,"pos":1092,"p":6.1},{"chr":6,"pos":1110,"p":5.0},{"chr":6,"pos":1130,"p":5.7},{"chr":6,"pos":1150,"p":4.8},{"chr":6,"pos":1170,"p":5.6},{"chr":6,"pos":1190,"p":4.9},{"chr":6,"pos":1210,"p":4.7},
{"chr":7,"pos":1235,"p":5.5},{"chr":7,"pos":1250,"p":5.2},{"chr":7,"pos":1265,"p":5.3},{"chr":7,"pos":1280,"p":4.9},{"chr":7,"pos":1300,"p":5.0},{"chr":7,"pos":1324,"p":6.0},{"chr":7,"pos":1340,"p":5.0},{"chr":7,"pos":1360,"p":4.8},{"chr":7,"pos":1375,"p":5.6},
{"chr":8,"pos":1392,"p":5.5},{"chr":8,"pos":1400,"p":6.0},{"chr":8,"pos":1415,"p":4.9},{"chr":8,"pos":1430,"p":5.4},{"chr":8,"pos":1450,"p":5.5},{"chr":8,"pos":1470,"p":4.8},{"chr":8,"pos":1490,"p":4.7},{"chr":8,"pos":1510,"p":4.6},{"chr":8,"pos":1525,"p":4.8},
{"chr":9,"pos":1548,"p":4.5},{"chr":9,"pos":1565,"p":4.6},{"chr":9,"pos":1590,"p":4.8},{"chr":9,"pos":1605,"p":5.5},{"chr":9,"pos":1620,"p":4.9},{"chr":9,"pos":1640,"p":5.0},{"chr":9,"pos":1652,"p":5.8},{"chr":9,"pos":1652,"p":5.4},
{"chr":10,"pos":1668,"p":4.8},{"chr":10,"pos":1685,"p":5.2},{"chr":10,"pos":1700,"p":5.0},{"chr":10,"pos":1725,"p":4.8},{"chr":10,"pos":1745,"p":5.3},{"chr":10,"pos":1760,"p":5.0},{"chr":10,"pos":1775,"p":6.0},{"chr":10,"pos":1790,"p":5.1},
{"chr":11,"pos":1808,"p":5.0},{"chr":11,"pos":1825,"p":5.2},{"chr":11,"pos":1840,"p":4.8},{"chr":11,"pos":1860,"p":5.3},{"chr":11,"pos":1880,"p":5.0},{"chr":11,"pos":1895,"p":5.6},{"chr":11,"pos":1907,"p":5.8},{"chr":11,"pos":1907,"p":6.2},{"chr":11,"pos":1915,"p":5.0},
{"chr":12,"pos":1940,"p":5.3},{"chr":12,"pos":1955,"p":4.8},{"chr":12,"pos":1970,"p":5.4},{"chr":12,"pos":1985,"p":4.7},{"chr":12,"pos":2000,"p":5.0},{"chr":12,"pos":2020,"p":4.9},{"chr":12,"pos":2040,"p":4.7},
{"chr":13,"pos":2067,"p":4.8},{"chr":13,"pos":2080,"p":5.3},{"chr":13,"pos":2095,"p":5.0},{"chr":13,"pos":2115,"p":4.7},{"chr":13,"pos":2135,"p":4.9},{"chr":13,"pos":2150,"p":4.6},
{"chr":14,"pos":2170,"p":4.8},{"chr":14,"pos":2190,"p":4.9},{"chr":14,"pos":2210,"p":4.7},{"chr":14,"pos":2225,"p":5.0},{"chr":14,"pos":2244,"p":5.7},{"chr":14,"pos":2244,"p":5.3},
{"chr":15,"pos":2258,"p":4.8},{"chr":15,"pos":2270,"p":5.1},{"chr":15,"pos":2290,"p":5.0},{"chr":15,"pos":2306,"p":5.8},{"chr":15,"pos":2306,"p":6.2},{"chr":15,"pos":2320,"p":5.1},
{"chr":16,"pos":2340,"p":5.2},{"chr":16,"pos":2355,"p":4.8},{"chr":16,"pos":2372,"p":5.3},{"chr":16,"pos":2390,"p":4.9},{"chr":16,"pos":2405,"p":5.2},
{"chr":17,"pos":2425,"p":4.6},{"chr":17,"pos":2440,"p":4.8},{"chr":17,"pos":2455,"p":4.6},{"chr":17,"pos":2470,"p":4.9},{"chr":17,"pos":2485,"p":5.0},
{"chr":18,"pos":2505,"p":4.9},{"chr":18,"pos":2520,"p":5.3},{"chr":18,"pos":2535,"p":5.9},{"chr":18,"pos":2550,"p":5.0},{"chr":18,"pos":2565,"p":5.4},
{"chr":19,"pos":2585,"p":4.8},{"chr":19,"pos":2600,"p":5.0},{"chr":19,"pos":2618,"p":5.3},{"chr":19,"pos":2628,"p":5.3},
{"chr":20,"pos":2645,"p":5.2},{"chr":20,"pos":2664,"p":5.6},{"chr":20,"pos":2664,"p":5.9},{"chr":20,"pos":2680,"p":5.7},{"chr":20,"pos":2690,"p":5.4},
{"chr":21,"pos":2710,"p":4.7},
{"chr":22,"pos":2740,"p":5.0},{"chr":22,"pos":2755,"p":5.3},
{"chr":23,"pos":2775,"p":4.7},{"chr":23,"pos":2790,"p":4.8},{"chr":23,"pos":2808,"p":4.7},{"chr":23,"pos":2825,"p":4.8},{"chr":23,"pos":2848,"p":5.6}],
"hitsC":[
{"pos":110,"p":6.3},{"pos":112,"p":7.55},
{"pos":376,"p":6.7},{"pos":376,"p":6.9},{"pos":376,"p":7.1},{"pos":376,"p":7.4},{"pos":376,"p":7.7},{"pos":376,"p":8.0},{"pos":376,"p":8.2},{"pos":376,"p":8.4},{"pos":376,"p":8.6},{"pos":376,"p":8.8},{"pos":376,"p":9.0},{"pos":376,"p":9.2},{"pos":376,"p":9.4},{"pos":376,"p":9.6},{"pos":376,"p":9.8},{"pos":376,"p":9.9},
{"pos":763,"p":6.85},{"pos":784,"p":6.5},{"pos":784,"p":6.7},{"pos":784,"p":6.9},{"pos":784,"p":7.2},{"pos":784,"p":7.3},
{"pos":875,"p":6.4},
{"pos":1092,"p":6.4},{"pos":1092,"p":6.5},{"pos":1092,"p":7.4},{"pos":1092,"p":7.5},
{"pos":1324,"p":6.2},{"pos":1324,"p":6.4},{"pos":1324,"p":6.6},{"pos":1324,"p":6.8},{"pos":1324,"p":7.0},{"pos":1324,"p":7.1},
{"pos":1370,"p":6.7},{"pos":1652,"p":6.3},{"pos":1652,"p":6.5},{"pos":1679,"p":6.85},
{"pos":1907,"p":6.4},{"pos":1907,"p":6.8},{"pos":1907,"p":7.1},{"pos":1907,"p":7.4},{"pos":1907,"p":7.7},{"pos":1907,"p":8.0},{"pos":1907,"p":8.3},{"pos":1907,"p":8.6},{"pos":1907,"p":8.8},{"pos":1907,"p":9.0},{"pos":1907,"p":9.2},{"pos":1907,"p":9.4},{"pos":1907,"p":9.5},{"pos":1907,"p":10.6},{"pos":1907,"p":10.8},{"pos":1907,"p":11.0},{"pos":1907,"p":11.2},{"pos":1907,"p":11.4},{"pos":1907,"p":11.5},
{"pos":2306,"p":6.3},{"pos":2306,"p":6.5},{"pos":2306,"p":6.7},{"pos":2306,"p":6.9},{"pos":2306,"p":7.1},{"pos":2306,"p":7.3},{"pos":2306,"p":7.5},{"pos":2306,"p":7.7},{"pos":2306,"p":7.9},{"pos":2306,"p":8.1},{"pos":2306,"p":8.3},{"pos":2306,"p":8.5},{"pos":2306,"p":8.7},{"pos":2306,"p":8.9},{"pos":2306,"p":9.1},{"pos":2306,"p":9.3},{"pos":2306,"p":9.5},{"pos":2306,"p":9.7},{"pos":2306,"p":10.5},{"pos":2306,"p":11.4},
{"pos":2306,"p":12.2},{"pos":2306,"p":12.4},{"pos":2306,"p":12.6},{"pos":2306,"p":12.8},{"pos":2306,"p":13.0},{"pos":2306,"p":13.2},{"pos":2306,"p":13.4},{"pos":2306,"p":13.6},{"pos":2306,"p":13.8},{"pos":2306,"p":14.0},{"pos":2306,"p":14.2},{"pos":2306,"p":14.4},{"pos":2306,"p":14.6},{"pos":2306,"p":14.8},{"pos":2306,"p":15.0},{"pos":2306,"p":15.2},
{"pos":2664,"p":6.5},{"pos":2664,"p":6.7},{"pos":2664,"p":6.9},{"pos":2664,"p":7.1},{"pos":2664,"p":7.3},{"pos":2664,"p":7.5},{"pos":2664,"p":7.7},{"pos":2664,"p":7.9},{"pos":2664,"p":8.1},{"pos":2664,"p":8.4},
{"pos":2694,"p":7.0}],
"labC":[
{"text":"LPPR5","pos":120,"p":8.2,"kind":"gene"},{"text":"TEX41/PABPC1P2","pos":389,"p":10.65,"kind":"gene"},{"text":"DNAH8","pos":1100,"p":8.18,"kind":"gene"},{"text":"NCAM1","pos":1923,"p":12.13,"kind":"gene"},{"text":"CHRNA3/5","pos":2294,"p":15.88,"kind":"gene"},{"text":"NOL4L","pos":2682,"p":9.08,"kind":"gene"}],
"ulC":[{"pos":63,"pos2":175,"p":7.68},{"pos":236,"pos2":542,"p":10.22},{"pos":1034,"pos2":1167,"p":7.8},{"pos":1854,"pos2":1992,"p":11.73},{"pos":2627,"pos2":2736,"p":8.69}],
"chrlab":[
{"name":"1","pos":106},{"name":"2","pos":346},{"name":"3","pos":563},{"name":"4","pos":767},{"name":"5","pos":950},{"name":"6","pos":1134},{"name":"7","pos":1303},{"name":"8","pos":1456},{"name":"9","pos":1599},{"name":"10","pos":1734},{"name":"11","pos":1867},{"name":"12","pos":1994},{"name":"13","pos":2112},{"name":"14","pos":2200},{"name":"15","pos":2282},{"name":"16","pos":2371},{"name":"17","pos":2454},{"name":"18","pos":2530},{"name":"19","pos":2603},{"name":"20","pos":2670},{"name":"22","pos":2747},{"name":"23","pos":2810}]
},
"vconcat":[
{"width":714,"height":227,
"title":{"text":"A\u00a0\u00a0 Low FEV₁ vs high FEV₁ in never smokers (MAC ≥3)","offset":3},
"layer":[
{"data":{"name":"profA"},"mark":{"type":"area","interpolate":"linear"},
"encoding":{"x":{"field":"pos","type":"quantitative","scale":{"domain":[0,2854],"nice":false,"zero":false},"axis":{"title":null,"labels":false,"values":[0,232,470,670,867,1047,1226,1383,1540,1660,1799,1927,2059,2160,2250,2330,2416,2495,2574,2636,2698,2730,2766,2854]}},
"y":{"field":"p","type":"quantitative","stack":null,"scale":{"domain":[0,16],"nice":false},"axis":{"title":"−log₁₀ (p value)","values":[0,2,4,6,8,10,12,14,16],"labelPadding":3,"titlePadding":6}},
"color":{"field":"chr","type":"ordinal","legend":null,"scale":{"domain":[1,2,3,4,5,6,7,8,9,10,11,12,13,14,15,16,17,18,19,20,21,22,23],"range":["#0b4f9c","#b3bcc4","#0b4f9c","#b3bcc4","#0b4f9c","#b3bcc4","#0b4f9c","#b3bcc4","#0b4f9c","#b3bcc4","#0b4f9c","#b3bcc4","#0b4f9c","#b3bcc4","#0b4f9c","#b3bcc4","#0b4f9c","#b3bcc4","#0b4f9c","#b3bcc4","#0b4f9c","#b3bcc4","#0b4f9c"]}}}},
{"data":{"name":"dotsA"},"mark":{"type":"circle","size":14,"opacity":1},
"encoding":{"x":{"field":"pos","type":"quantitative"},"y":{"field":"p","type":"quantitative"},"color":{"field":"chr","type":"ordinal","legend":null}}},
{"data":{"name":"hitsA"},"mark":{"type":"circle","size":14,"opacity":1,"color":"#e8322e"},
"encoding":{"x":{"field":"pos","type":"quantitative"},"y":{"field":"p","type":"quantitative"}}},
{"mark":{"type":"rule","color":"#e8322e","strokeDash":[4,3],"strokeWidth":1.2},"encoding":{"y":{"datum":7.3}}},
{"data":{"name":"ulA"},"mark":{"type":"rule","color":"#333","strokeWidth":1},
"encoding":{"x":{"field":"pos","type":"quantitative"},"x2":{"field":"pos2"},"y":{"field":"p","type":"quantitative"}}},
{"data":{"name":"labA"},"mark":{"type":"text","font":"Lato","fontSize":10,"baseline":"middle","align":"center","color":"#222","fontStyle":"italic"},
"encoding":{"x":{"field":"pos","type":"quantitative"},"y":{"field":"p","type":"quantitative"},"text":{"field":"text"}}},
{"data":{"name":"partsA"},"mark":{"type":"text","font":"Lato","fontSize":9.5,"baseline":"middle","align":"left","color":"#222","fontStyle":{"expr":"datum.kind=='note'?'normal':'italic'"},"fontWeight":{"expr":"datum.kind=='lead'?'bold':'normal'"}},
"encoding":{"x":{"field":"pos","type":"quantitative"},"y":{"field":"p","type":"quantitative"},"text":{"field":"text"}}}
]},
{"width":714,"height":237,
"title":{"text":"B\u00a0\u00a0 Low FEV₁ vs high FEV₁ in heavy smokers (MAC ≥3)","offset":8},
"layer":[
{"data":{"name":"profB"},"mark":{"type":"area","interpolate":"linear"},
"encoding":{"x":{"field":"pos","type":"quantitative","scale":{"domain":[0,2854],"nice":false,"zero":false},"axis":{"title":null,"labels":false,"values":[0,232,470,670,867,1047,1226,1383,1540,1660,1799,1927,2059,2160,2250,2330,2416,2495,2574,2636,2698,2730,2766,2854]}},
"y":{"field":"p","type":"quantitative","stack":null,"scale":{"domain":[0,16],"nice":false},"axis":{"title":"−log₁₀ (p value)","values":[0,2,4,6,8,10,12,14,16],"labelPadding":3,"titlePadding":6}},
"color":{"field":"chr","type":"ordinal","legend":null,"scale":{"domain":[1,2,3,4,5,6,7,8,9,10,11,12,13,14,15,16,17,18,19,20,21,22,23],"range":["#0b4f9c","#b3bcc4","#0b4f9c","#b3bcc4","#0b4f9c","#b3bcc4","#0b4f9c","#b3bcc4","#0b4f9c","#b3bcc4","#0b4f9c","#b3bcc4","#0b4f9c","#b3bcc4","#0b4f9c","#b3bcc4","#0b4f9c","#b3bcc4","#0b4f9c","#b3bcc4","#0b4f9c","#b3bcc4","#0b4f9c"]}}}},
{"data":{"name":"dotsB"},"mark":{"type":"circle","size":14,"opacity":1},
"encoding":{"x":{"field":"pos","type":"quantitative"},"y":{"field":"p","type":"quantitative"},"color":{"field":"chr","type":"ordinal","legend":null}}},
{"data":{"name":"hitsB"},"mark":{"type":"circle","size":14,"opacity":1,"color":"#e8322e"},
"encoding":{"x":{"field":"pos","type":"quantitative"},"y":{"field":"p","type":"quantitative"}}},
{"mark":{"type":"rule","color":"#e8322e","strokeDash":[4,3],"strokeWidth":1.2},"encoding":{"y":{"datum":7.3}}},
{"data":{"name":"ulB"},"mark":{"type":"rule","color":"#333","strokeWidth":1},
"encoding":{"x":{"field":"pos","type":"quantitative"},"x2":{"field":"pos2"},"y":{"field":"p","type":"quantitative"}}},
{"data":{"name":"labB"},"mark":{"type":"text","font":"Lato","fontSize":10,"baseline":"middle","align":"center","color":"#222","fontStyle":{"expr":"datum.kind=='note'?'normal':'italic'"}},
"encoding":{"x":{"field":"pos","type":"quantitative"},"y":{"field":"p","type":"quantitative"},"text":{"field":"text"}}}
]},
{"width":714,"height":237,
"title":{"text":"C\u00a0\u00a0 Heavy smokers vs never smokers (MAC ≥3)","offset":16},
"layer":[
{"data":{"name":"profC"},"mark":{"type":"area","interpolate":"linear"},
"encoding":{"x":{"field":"pos","type":"quantitative","scale":{"domain":[0,2854],"nice":false,"zero":false},"axis":{"title":"Chromosome","titlePadding":19,"labels":false,"values":[0,232,470,670,867,1047,1226,1383,1540,1660,1799,1927,2059,2160,2250,2330,2416,2495,2574,2636,2698,2730,2766,2854]}},
"y":{"field":"p","type":"quantitative","stack":null,"scale":{"domain":[0,16],"nice":false},"axis":{"title":"−log₁₀ (p value)","values":[0,2,4,6,8,10,12,14,16],"labelPadding":3,"titlePadding":6}},
"color":{"field":"chr","type":"ordinal","legend":null,"scale":{"domain":[1,2,3,4,5,6,7,8,9,10,11,12,13,14,15,16,17,18,19,20,21,22,23],"range":["#0b4f9c","#b3bcc4","#0b4f9c","#b3bcc4","#0b4f9c","#b3bcc4","#0b4f9c","#b3bcc4","#0b4f9c","#b3bcc4","#0b4f9c","#b3bcc4","#0b4f9c","#b3bcc4","#0b4f9c","#b3bcc4","#0b4f9c","#b3bcc4","#0b4f9c","#b3bcc4","#0b4f9c","#b3bcc4","#0b4f9c"]}}}},
{"data":{"name":"dotsC"},"mark":{"type":"circle","size":14,"opacity":1},
"encoding":{"x":{"field":"pos","type":"quantitative"},"y":{"field":"p","type":"quantitative"},"color":{"field":"chr","type":"ordinal","legend":null}}},
{"data":{"name":"hitsC"},"mark":{"type":"circle","size":14,"opacity":1,"color":"#e8322e"},
"encoding":{"x":{"field":"pos","type":"quantitative"},"y":{"field":"p","type":"quantitative"}}},
{"mark":{"type":"rule","color":"#e8322e","strokeDash":[4,3],"strokeWidth":1.2},"encoding":{"y":{"datum":7.3}}},
{"data":{"name":"ulC"},"mark":{"type":"rule","color":"#333","strokeWidth":1},
"encoding":{"x":{"field":"pos","type":"quantitative"},"x2":{"field":"pos2"},"y":{"field":"p","type":"quantitative"}}},
{"data":{"name":"labC"},"mark":{"type":"text","font":"Lato","fontSize":10,"baseline":"middle","align":"center","color":"#222","fontStyle":"italic"},
"encoding":{"x":{"field":"pos","type":"quantitative"},"y":{"field":"p","type":"quantitative"},"text":{"field":"text"}}},
{"data":{"name":"chrlab"},"mark":{"type":"text","font":"Lato","fontSize":11,"baseline":"middle","align":"center","color":"#333","clip":false},
"encoding":{"x":{"field":"pos","type":"quantitative"},"y":{"datum":-0.85},"text":{"field":"name"}}}
]}
]
}
